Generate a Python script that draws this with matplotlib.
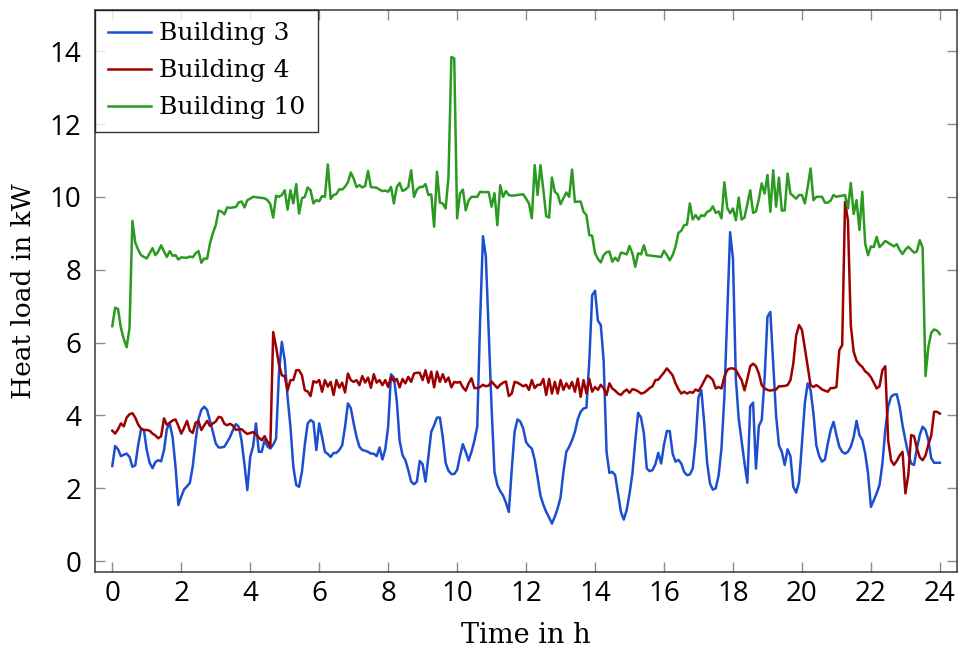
import numpy as np
import matplotlib
matplotlib.use("Agg")
import matplotlib.pyplot as plt

# 5-minute samples over one day
hours = np.arange(289) / 12.0

building_3 = [
    2.61, 3.16, 3.07, 2.88, 2.92, 2.95, 2.86, 2.59, 2.63, 3.18, 3.62, 3.60,
    3.05, 2.70, 2.55, 2.72, 2.77, 2.74, 3.05, 3.63, 3.78, 3.40, 2.60, 1.54,
    1.77, 1.97, 2.05, 2.15, 2.60, 3.30, 3.90, 4.15, 4.24, 4.15, 3.85, 3.55,
    3.23, 3.12, 3.12, 3.14, 3.27, 3.41, 3.60, 3.76, 3.69, 3.30, 2.65, 1.95,
    2.86, 3.15, 3.78, 3.00, 3.00, 3.32, 3.15, 3.09, 3.20, 3.36, 5.15, 6.02,
    5.52, 4.50, 3.69, 2.59, 2.09, 2.04, 2.45, 3.20, 3.78, 3.87, 3.82, 3.05,
    3.78, 3.41, 3.00, 2.94, 2.86, 2.97, 2.97, 3.05, 3.18, 3.69, 4.33, 4.20,
    3.78, 3.41, 3.14, 3.05, 3.03, 3.00, 2.95, 2.95, 2.88, 3.12, 2.79, 3.07,
    3.69, 5.13, 5.04, 4.40, 3.30, 2.91, 2.77, 2.50, 2.18, 2.11, 2.18, 2.75,
    2.66, 2.18, 2.86, 3.55, 3.73, 3.94, 3.94, 3.41, 2.70, 2.48, 2.39, 2.39,
    2.50, 2.88, 3.21, 3.00, 2.76, 3.00, 3.30, 3.69, 6.60, 8.92, 8.35, 6.30,
    4.20, 2.45, 2.09, 1.92, 1.80, 1.60, 1.35, 2.50, 3.55, 3.89, 3.83, 3.64,
    3.27, 3.16, 3.09, 2.78, 2.30, 1.80, 1.55, 1.35, 1.20, 1.03, 1.22, 1.45,
    1.75, 2.45, 3.00, 3.14, 3.32, 3.55, 3.90, 4.10, 4.19, 4.21, 5.50, 7.30,
    7.42, 6.60, 6.48, 5.50, 3.00, 2.42, 2.45, 2.36, 1.86, 1.35, 1.14, 1.40,
    1.85, 2.40, 3.30, 4.07, 3.94, 3.50, 2.54, 2.47, 2.50, 2.66, 2.97, 2.68,
    3.20, 3.57, 3.57, 2.95, 2.73, 2.78, 2.68, 2.45, 2.36, 2.38, 2.54, 3.30,
    4.50, 4.69, 3.78, 2.70, 2.13, 1.96, 2.00, 2.35, 3.10, 4.50, 6.80, 9.03,
    8.30, 5.00, 3.90, 3.30, 2.70, 2.15, 4.25, 4.35, 2.54, 3.71, 3.87, 5.00,
    6.71, 6.84, 5.43, 4.00, 3.18, 3.00, 2.64, 3.07, 2.88, 2.04, 1.88, 2.18,
    3.23, 4.33, 4.88, 4.70, 4.05, 3.18, 2.88, 2.73, 2.79, 3.23, 3.60, 3.82,
    3.46, 3.14, 3.00, 2.95, 3.00, 3.14, 3.41, 3.85, 3.46, 3.32, 2.96, 2.41,
    1.49, 1.67, 1.86, 2.09, 2.68, 3.60, 4.24, 4.51, 4.57, 4.58, 4.24, 3.73,
    3.32, 2.95, 2.68, 2.64, 3.09, 3.46, 3.69, 3.60, 3.32, 2.82, 2.70, 2.70,
    2.70,
]

building_4 = [
    3.58, 3.50, 3.62, 3.78, 3.70, 3.94, 4.03, 4.06, 3.94, 3.75, 3.64, 3.60,
    3.60, 3.58, 3.50, 3.45, 3.37, 3.43, 3.92, 3.74, 3.80, 3.86, 3.89, 3.71,
    3.50, 3.66, 3.85, 3.58, 3.52, 3.80, 3.84, 3.60, 3.73, 3.85, 3.71, 3.78,
    3.83, 3.96, 3.94, 3.77, 3.73, 3.77, 3.72, 3.60, 3.62, 3.62, 3.55, 3.49,
    3.52, 3.54, 3.48, 3.39, 3.32, 3.43, 3.28, 3.14, 6.29, 5.88, 5.40, 5.10,
    5.08, 4.69, 4.97, 4.97, 5.24, 5.24, 5.10, 4.69, 4.66, 4.53, 4.94, 4.90,
    4.97, 4.65, 4.97, 4.79, 4.92, 4.56, 4.97, 4.76, 4.90, 4.63, 5.15, 4.97,
    4.92, 4.97, 4.83, 5.08, 4.90, 5.04, 4.76, 5.13, 4.90, 4.97, 4.83, 4.97,
    4.78, 5.06, 4.94, 5.00, 4.77, 5.00, 4.88, 5.06, 4.92, 5.15, 5.17, 5.17,
    4.97, 5.24, 4.90, 5.20, 4.77, 5.20, 4.92, 5.13, 4.92, 5.04, 4.77, 4.92,
    4.90, 4.92, 4.77, 4.68, 4.88, 5.02, 4.75, 4.75, 4.78, 4.84, 4.80, 4.82,
    4.93, 4.84, 4.75, 4.84, 4.90, 4.93, 4.53, 4.60, 4.92, 4.90, 4.85, 4.80,
    4.84, 4.70, 4.97, 4.75, 4.84, 4.84, 5.00, 4.56, 5.00, 4.60, 4.92, 4.60,
    4.97, 4.70, 4.88, 4.74, 4.92, 4.65, 5.01, 4.51, 4.97, 4.60, 5.00, 4.65,
    4.78, 4.70, 4.84, 4.75, 4.56, 4.88, 4.74, 4.68, 4.60, 4.56, 4.65, 4.71,
    4.62, 4.72, 4.70, 4.66, 4.60, 4.62, 4.68, 4.75, 4.80, 4.97, 4.98, 5.08,
    5.18, 5.29, 5.20, 5.10, 4.88, 4.72, 4.60, 4.65, 4.60, 4.64, 4.62, 4.71,
    4.67, 4.80, 4.95, 5.10, 5.05, 4.97, 4.74, 4.78, 4.74, 5.06, 5.25, 5.29,
    5.29, 5.25, 5.10, 4.97, 4.69, 5.00, 5.35, 5.42, 5.35, 5.15, 4.83, 4.74,
    4.70, 4.68, 4.70, 4.71, 4.80, 4.80, 4.81, 4.83, 4.97, 5.43, 6.20, 6.48,
    6.35, 5.85, 5.33, 4.83, 4.78, 4.83, 4.78, 4.71, 4.68, 4.65, 4.75, 4.75,
    4.78, 5.79, 5.93, 9.86, 9.36, 6.48, 5.75, 5.50, 5.40, 5.33, 5.21, 5.15,
    5.05, 4.90, 4.74, 4.80, 5.24, 5.35, 3.32, 2.77, 2.64, 2.75, 2.90, 3.00,
    1.86, 2.36, 3.46, 3.43, 3.10, 2.85, 2.77, 2.90, 3.20, 3.45, 4.10, 4.10,
    4.05,
]

building_10 = [
    6.45, 6.96, 6.92, 6.40, 6.10, 5.87, 6.40, 9.34, 8.74, 8.55, 8.40, 8.35,
    8.31, 8.45, 8.59, 8.40, 8.50, 8.67, 8.50, 8.35, 8.51, 8.38, 8.40, 8.28,
    8.34, 8.33, 8.33, 8.36, 8.34, 8.45, 8.51, 8.19, 8.31, 8.30, 8.72, 9.00,
    9.22, 9.62, 9.60, 9.52, 9.71, 9.70, 9.71, 9.72, 9.85, 9.87, 9.71, 9.91,
    9.95, 10.00, 9.99, 9.98, 9.97, 9.96, 9.91, 9.80, 9.43, 10.03, 10.00, 10.05,
    10.18, 9.65, 10.18, 9.82, 10.35, 9.54, 9.96, 10.00, 10.26, 10.18, 9.82, 9.91,
    9.88, 10.02, 10.00, 10.89, 9.94, 10.05, 10.08, 10.21, 10.20, 10.28, 10.40, 10.67,
    10.50, 10.27, 10.32, 10.26, 10.30, 10.71, 10.27, 10.26, 10.25, 10.20, 10.16, 10.17,
    10.14, 10.27, 9.82, 10.27, 10.38, 10.16, 10.20, 10.27, 10.73, 10.00, 10.20, 10.27,
    10.27, 10.35, 10.05, 10.07, 9.18, 10.69, 9.84, 9.82, 9.68, 10.55, 13.84, 13.80,
    9.41, 10.09, 10.20, 9.63, 9.90, 10.00, 10.00, 10.00, 10.14, 10.13, 10.13, 10.13,
    9.73, 10.10, 9.22, 10.32, 10.00, 10.16, 10.05, 10.03, 10.04, 10.05, 10.06, 10.07,
    9.95, 9.82, 9.41, 10.87, 10.05, 10.87, 10.20, 9.47, 9.43, 10.53, 10.14, 10.07,
    9.80, 9.96, 10.12, 10.00, 10.75, 9.86, 9.87, 9.87, 9.59, 9.50, 8.95, 8.93,
    8.45, 8.30, 8.20, 8.40, 8.48, 8.50, 8.22, 8.33, 8.24, 8.47, 8.45, 8.42,
    8.65, 8.45, 8.08, 8.45, 8.42, 8.67, 8.40, 8.39, 8.38, 8.37, 8.36, 8.35,
    8.52, 8.40, 8.26, 8.40, 8.63, 9.01, 9.07, 9.22, 9.24, 9.82, 9.38, 9.50,
    9.38, 9.50, 9.47, 9.59, 9.62, 9.74, 9.56, 9.60, 9.41, 10.40, 9.70, 9.55,
    9.68, 9.36, 9.98, 9.38, 9.43, 9.80, 10.18, 9.56, 9.60, 9.93, 10.37, 10.09,
    10.60, 9.59, 10.73, 9.73, 10.53, 9.62, 9.63, 10.64, 10.09, 10.02, 9.95, 10.05,
    10.05, 9.82, 10.27, 10.78, 9.91, 10.00, 10.00, 10.00, 9.84, 9.84, 9.90, 10.05,
    10.00, 10.02, 10.03, 10.05, 9.68, 10.38, 9.53, 9.91, 9.09, 10.14, 8.72, 8.40,
    8.64, 8.62, 8.90, 8.62, 8.70, 8.79, 8.74, 8.69, 8.64, 8.70, 8.54, 8.43,
    8.55, 8.63, 8.55, 8.47, 8.50, 8.81, 8.60, 5.08, 5.88, 6.27, 6.36, 6.33,
    6.23,
]

series = [
    ("Building 3", building_3, "#1c4fd0"),
    ("Building 4", building_4, "#9c0000"),
    ("Building 10", building_10, "#2a9a20"),
]

x_ticks = list(range(0, 25, 2))
y_ticks = list(range(0, 15, 2))

plt.rcParams["font.family"] = ["Open Sans", "DejaVu Sans"]
serif = "DejaVu Serif"

fig = plt.figure(figsize=(9.6, 6.49), dpi=100)
ax = fig.add_axes([0.099, 0.1186, 0.898, 0.866])

for name, values, color in series:
    ax.plot(hours, values, color=color, lw=1.8, label=name)

ax.set_xlim(-0.5, 24.5)
ax.set_ylim(-0.3, 15.13)
ax.set_xticks(x_ticks)
ax.set_yticks(y_ticks)

ax.tick_params(axis="both", which="both", direction="in", length=7.4, width=1,
               color="#8c8c8c", top=True, right=True, labelsize=20)
ax.tick_params(axis="x", pad=6)
ax.tick_params(axis="y", pad=10)
for sp in ax.spines.values():
    sp.set_color("#3a3a3a")
    sp.set_linewidth(1.1)

ax.set_xlabel("Time in h", fontsize=19.5, family=serif, labelpad=10)
ax.set_ylabel("Heat load in kW", fontsize=19, family=serif, labelpad=10)

leg = ax.legend(loc="upper left", bbox_to_anchor=(0, 1), borderaxespad=0,
                prop={"family": serif, "size": 18}, frameon=True,
                fancybox=False, handlelength=1.75, handletextpad=0.3,
                labelspacing=0.56, borderpad=0.5)
leg.get_frame().set_edgecolor("black")
leg.get_frame().set_linewidth(1.0)

fig.savefig("out.png", dpi=100)
